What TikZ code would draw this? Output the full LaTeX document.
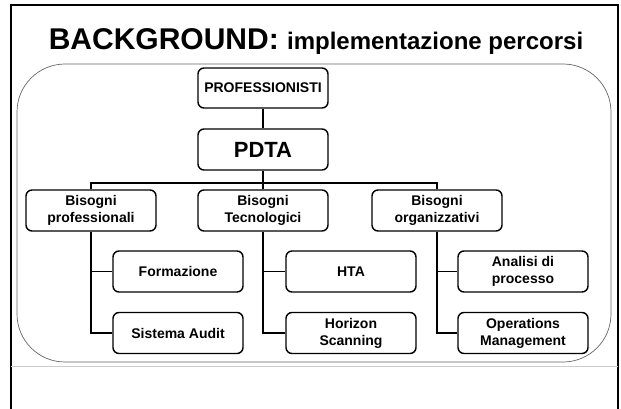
\documentclass[tikz,border=0pt]{standalone}
\usepackage{fontspec}
\setmainfont{Liberation Sans}
\usetikzlibrary{positioning}

\begin{document}
\begin{tikzpicture}[x=1pt, y=-1pt]
                \useasboundingbox (0,0) rectangle (621,409);

                % slide frame and the frame of the chart
                \draw[line width=2.4pt] (11,409) -- (11,5) -- (618,5) -- (618,409);
                \draw[black!20, line width=0.8pt] (11,366) -- (618,366);
                \draw[black!60, line width=0.7pt, rounded corners=48pt] (17,64) rectangle (611,362);

                \node (title) at (316,42) {\bfseries\fontsize{30}{30}\selectfont BACKGROUND: \fontsize{24}{24}\selectfont implementazione percorsi};

                \begin{scope}[
                        every node/.style={draw, line width=1.4pt, rounded corners=6pt,
                            minimum width=130pt, minimum height=41pt, align=center,
                            inner sep=2pt, font=\bfseries\fontsize{14}{17}\selectfont}
                    ]

                    \node[minimum height=40pt] (prof) at (263,88) {PROFESSIONISTI};
                    \node[font=\bfseries\fontsize{22}{22}\selectfont] (pdta) at (263,149.5) {PDTA};

                    \node (bprof) at (91,210.5) {Bisogni\\professionali};
                    \node (btec) at (263,210.5) {Bisogni\\Tecnologici};
                    \node (borg) at (437,210.5) {Bisogni\\organizzativi};

                    \node (form) at (178,271.5) {Formazione};
                    \node (audit) at (178,333) {Sistema Audit};
                    \node (hta) at (351,271.5) {HTA};
                    \node (horizon) at (351,333) {Horizon\\Scanning};
                    \node (analisi) at (523,271.5) {Analisi di\\processo};
                    \node (oper) at (523,333) {Operations\\Management};
                \end{scope}

                \coordinate (bus) at (263,183);

                \begin{scope}[line width=1.6pt]
                    \draw (prof) -- (pdta);
                    \draw (pdta) -- (btec);
                    \draw (bprof.north) |- (bus) -| (borg.north);

                    \draw (bprof.south) |- (form.west);
                    \draw (bprof.south) |- (audit.west);
                    \draw (btec.south) |- (hta.west);
                    \draw (btec.south) |- (horizon.west);
                    \draw (borg.south) |- (analisi.west);
                    \draw (borg.south) |- (oper.west);
                \end{scope}
            \end{tikzpicture}
\end{document}
